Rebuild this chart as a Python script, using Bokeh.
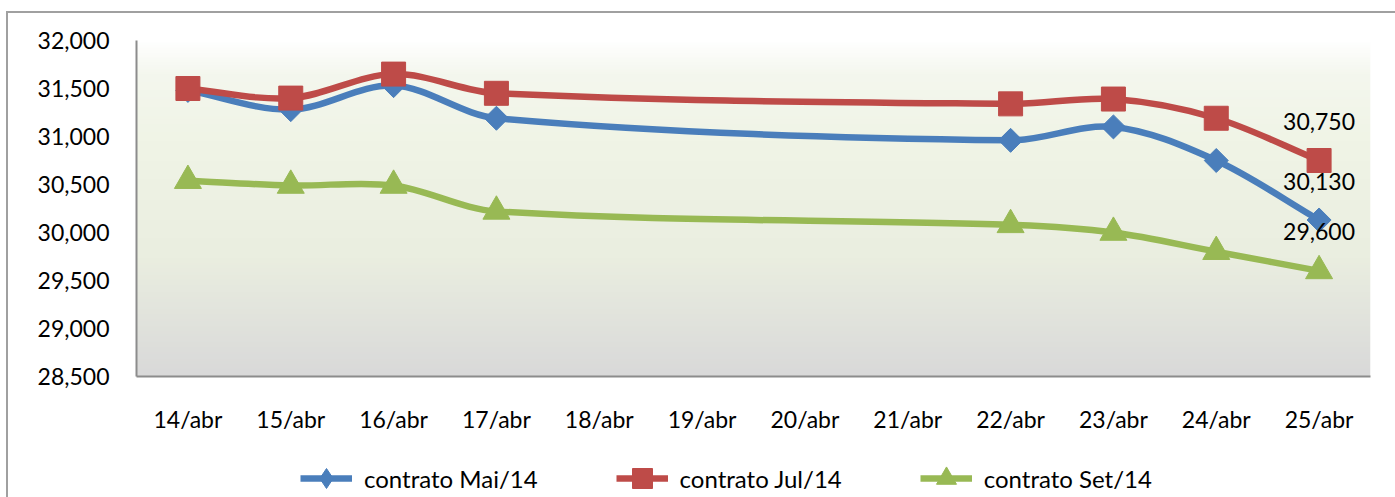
import numpy as np
from bokeh.plotting import figure
from bokeh.layouts import column
from bokeh.models import (Range1d, FixedTicker, NumeralTickFormatter, ColumnDataSource,
                          Legend, LegendItem)
from bokeh.core.properties import value
from bokeh.embed import file_html
from bokeh.resources import INLINE

# ---------------- data ----------------
categories = ["14/abr", "15/abr", "16/abr", "17/abr", "18/abr", "19/abr",
              "20/abr", "21/abr", "22/abr", "23/abr", "24/abr", "25/abr"]
dates = ["14/abr", "15/abr", "16/abr", "17/abr", "22/abr", "23/abr", "24/abr", "25/abr"]
mai14 = [31480, 31280, 31530, 31190, 30960, 31100, 30750, 30130]
jul14 = [31500, 31400, 31650, 31450, 31340, 31390, 31190, 30750]
set14 = [30540, 30490, 30490, 30220, 30080, 30000, 29800, 29600]
series_names = ["contrato Mai/14", "contrato Jul/14", "contrato Set/14"]
y_ticks = [28500, 29000, 29500, 30000, 30500, 31000, 31500, 32000]

FONT = "Lato"
colors = ["#4A7EBB", "#BE4B48", "#98B954"]
LW = 6.5
markers = [dict(marker="square", angle=np.pi / 4, size=17),
           dict(marker="square", angle=0, size=24),
           dict(marker="triangle", angle=0, size=27)]
legend_markers = ["diamond", "square", "triangle"]

W = 1387
H1 = 427
H2 = 57

p = figure(width=W, height=H1, output_backend="svg", toolbar_location=None,
           x_range=Range1d(-0.5, len(categories) - 0.5),
           y_range=Range1d(y_ticks[0], y_ticks[-1]),
           min_border_left=128, min_border_right=25, min_border_top=27, min_border_bottom=H1 - 27 - 336)
p.outline_line_color = None
p.background_fill_color = "white"
p.border_fill_color = "white"
p.grid.visible = False

# gradient background of plot area
N = 200
t = np.linspace(0, 1, N)  # 0 = bottom, 1 = top
stops_t = [0.0, 0.35, 0.7, 0.9, 1.0]
stops_c = [(0xD9, 0xD9, 0xD9), (0xEA, 0xEE, 0xE0), (0xF0, 0xF4, 0xE6), (0xF4, 0xF7, 0xEE), (0xFF, 0xFF, 0xFF)]
r = np.interp(t, stops_t, [c[0] for c in stops_c])
g = np.interp(t, stops_t, [c[1] for c in stops_c])
b = np.interp(t, stops_t, [c[2] for c in stops_c])
img = np.zeros((N, 1), dtype=np.uint32)
view = img.view(dtype=np.uint8).reshape((N, 1, 4))
view[:, 0, 0] = r.astype(np.uint8)
view[:, 0, 1] = g.astype(np.uint8)
view[:, 0, 2] = b.astype(np.uint8)
view[:, 0, 3] = 255
p.image_rgba(image=[img], x=-0.5, y=y_ticks[0], dw=len(categories), dh=y_ticks[-1] - y_ticks[0])

# axes
p.xaxis.ticker = FixedTicker(ticks=list(range(len(categories))))
p.xaxis.major_label_overrides = {i: c for i, c in enumerate(categories)}
p.yaxis.ticker = FixedTicker(ticks=y_ticks)
p.yaxis.formatter = NumeralTickFormatter(format="0,0")
for ax in (p.xaxis, p.yaxis):
    ax.axis_line_color = "#8C8C8C"
    ax.axis_line_width = 2
    ax.major_tick_line_color = None
    ax.minor_tick_line_color = None
    ax.major_label_text_font = FONT
    ax.major_label_text_font_size = "23px"
    ax.major_label_text_color = "#000000"
p.yaxis.major_label_standoff = 21
p.xaxis.major_label_standoff = 22


def smooth_segments(xs, ys):
    """Cubic Hermite (x-monotone) smoothing expressed as Bezier segments."""
    n = len(xs)
    m = []
    for i in range(n):
        if i == 0:
            m.append((ys[1] - ys[0]) / (xs[1] - xs[0]))
        elif i == n - 1:
            m.append((ys[-1] - ys[-2]) / (xs[-1] - xs[-2]))
        else:
            m.append((ys[i + 1] - ys[i - 1]) / (xs[i + 1] - xs[i - 1]))
    d = dict(x0=[], y0=[], x1=[], y1=[], cx0=[], cy0=[], cx1=[], cy1=[])
    for i in range(n - 1):
        dx = xs[i + 1] - xs[i]
        d["x0"].append(xs[i]); d["y0"].append(ys[i])
        d["x1"].append(xs[i + 1]); d["y1"].append(ys[i + 1])
        d["cx0"].append(xs[i] + dx / 3.0)
        d["cy0"].append(ys[i] + m[i] * dx / 3.0)
        d["cx1"].append(xs[i + 1] - dx / 3.0)
        d["cy1"].append(ys[i + 1] - m[i + 1] * dx / 3.0)
    return d


xs = [categories.index(d) for d in dates]
for vals, col, mk in zip([mai14, jul14, set14], colors, markers):
    seg = ColumnDataSource(smooth_segments(xs, vals))
    p.bezier(x0="x0", y0="y0", x1="x1", y1="y1", cx0="cx0", cy0="cy0",
             cx1="cx1", cy1="cy1", source=seg, line_color=col, line_width=LW)
    p.scatter(x=xs, y=vals, marker=mk["marker"], angle=mk["angle"], size=mk["size"],
              fill_color=col, line_color=col)

# data labels for last point
last_vals = [jul14[-1], mai14[-1], set14[-1]]
lab_src = ColumnDataSource(dict(x=[xs[-1]] * 3, y=last_vals,
                                t=["{:,}".format(v) for v in last_vals]))
p.text(x="x", y="y", text="t", source=lab_src, text_font=value(FONT),
       text_font_size="23px", text_align="center", text_baseline="middle",
       text_color="#000000", y_offset=-39)

# legend strip
p2 = figure(width=W, height=H2, output_backend="svg", toolbar_location=None,
            x_range=Range1d(0, 1), y_range=Range1d(0, 1),
            min_border_left=0, min_border_right=0, min_border_top=0, min_border_bottom=0)
p2.axis.visible = False
p2.grid.visible = False
p2.outline_line_color = None
p2.background_fill_color = "white"
p2.border_fill_color = "white"
items = []
for name, col, lm in zip(series_names, colors, legend_markers):
    src = ColumnDataSource(dict(x=[np.nan], y=[np.nan]))
    lg = p2.line(x="x", y="y", source=src, line_color=col, line_width=LW)
    sc = p2.scatter(x="x", y="y", source=src, marker=lm, size=20,
                    fill_color=col, line_color=col)
    items.append(LegendItem(label=name, renderers=[lg, sc]))
legend = Legend(items=items, orientation="horizontal", location=(164, -6),
                glyph_width=52, glyph_height=50, label_standoff=12, spacing=78,
                padding=0, margin=0, border_line_color=None, background_fill_alpha=0,
                label_text_font=FONT, label_text_font_size="24px", label_text_color="#000000")
p2.add_layout(legend, "center")

layout = column(p, p2, spacing=0)
layout.styles = {"margin-left": "6px", "margin-top": "11px",
                 "border-top": "2px solid #A0A0A0", "border-left": "2px solid #A0A0A0"}

open("out.html", "w").write(file_html(layout, INLINE))
